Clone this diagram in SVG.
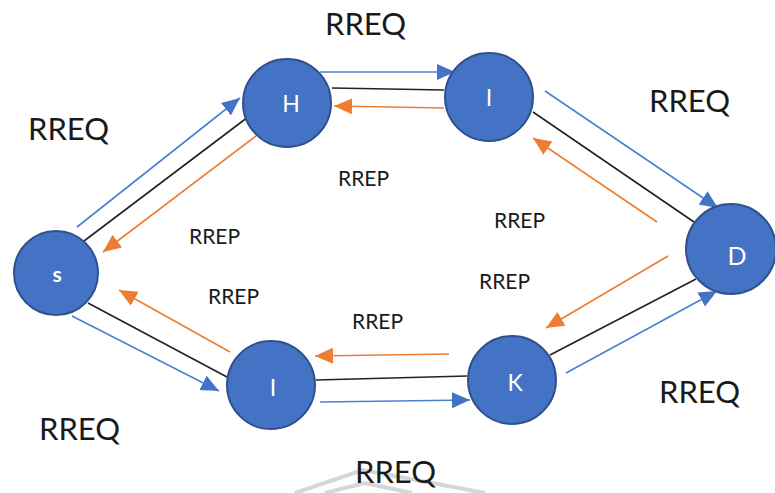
<svg xmlns="http://www.w3.org/2000/svg" width="775" height="493" viewBox="0 0 775 493">
<style>
.node{fill:#4472C4;stroke:#2F528F;stroke-width:2}
.nl{font-family:Lato,"Open Sans",sans-serif;fill:#fff;text-anchor:middle;font-size:23px}
.req{font-family:Lato,"Open Sans",sans-serif;font-size:31px;fill:#1a1a1a}
.rep{font-family:Lato,"Open Sans",sans-serif;font-size:21px;fill:#1a1a1a}
.b{stroke:#4A7FD6;stroke-width:1.6;fill:none}
.k{stroke:#222;stroke-width:1.6;fill:none}
.o{stroke:#ED7D31;stroke-width:1.6;fill:none}
</style>
<defs>
<marker id="ab" markerUnits="userSpaceOnUse" markerWidth="19" markerHeight="17" refX="18" refY="8" orient="auto"><path d="M0,0 L18,8 L0,16 z" fill="#4472C4"/></marker>
<marker id="ao" markerUnits="userSpaceOnUse" markerWidth="19" markerHeight="17" refX="18" refY="8" orient="auto"><path d="M0,0 L18,8 L0,16 z" fill="#ED7D31"/></marker>
</defs>
<rect width="775" height="493" fill="#fff"/>
<g id="watermark" fill="none" stroke="#d6d6d6" stroke-width="4">
<polyline points="295,493 363,470 485,493"/>
<polyline points="325,493 365,483 412,493"/>
</g>
<g id="connectors">
<line class="b" x1="77" y1="227" x2="240" y2="98" marker-end="url(#ab)"/>
<line class="k" x1="84" y1="241" x2="252" y2="114"/>
<line class="o" x1="256" y1="136" x2="103" y2="252" marker-end="url(#ao)"/>
<line class="b" x1="320" y1="72" x2="455" y2="72" marker-end="url(#ab)"/>
<line class="k" x1="332" y1="88" x2="444" y2="90"/>
<line class="o" x1="444" y1="108" x2="334" y2="106" marker-end="url(#ao)"/>
<line class="b" x1="545" y1="91" x2="718" y2="208" marker-end="url(#ab)"/>
<line class="k" x1="533" y1="112" x2="694" y2="222"/>
<line class="o" x1="657" y1="222" x2="533" y2="138" marker-end="url(#ao)"/>
<line class="o" x1="668" y1="256" x2="546" y2="328" marker-end="url(#ao)"/>
<line class="k" x1="696" y1="279" x2="550" y2="355"/>
<line class="b" x1="566" y1="373" x2="717" y2="291" marker-end="url(#ab)"/>
<line class="o" x1="449" y1="354" x2="315" y2="356" marker-end="url(#ao)"/>
<line class="k" x1="316" y1="380" x2="467" y2="376"/>
<line class="b" x1="320" y1="402" x2="470" y2="400" marker-end="url(#ab)"/>
<line class="o" x1="230" y1="352" x2="119" y2="290" marker-end="url(#ao)"/>
<line class="k" x1="88" y1="303" x2="227" y2="377"/>
<line class="b" x1="72" y1="316" x2="219" y2="391" marker-end="url(#ab)"/>
</g>
<g id="node-S"><circle class="node" cx="56" cy="273" r="42"/><text class="nl" x="57" y="282" style="font-size:21px;font-weight:bold">s</text></g>
<g id="node-H"><circle class="node" cx="287" cy="103" r="44"/><text class="nl" x="291" y="112">H</text></g>
<g id="node-I1"><circle class="node" cx="489" cy="97" r="44"/><text class="nl" x="489" y="106">I</text></g>
<g id="node-D"><circle class="node" cx="731" cy="249" r="45"/><text class="nl" x="737" y="265" style="font-size:25px">D</text></g>
<g id="node-I2"><circle class="node" cx="271" cy="385" r="44"/><text class="nl" x="273" y="396">I</text></g>
<g id="node-K"><circle class="node" cx="512" cy="380" r="44"/><text class="nl" x="515" y="391">K</text></g>
<g id="labels">
<text class="req" x="325" y="35">RREQ</text>
<text class="req" x="28" y="140">RREQ</text>
<text class="req" x="649" y="112">RREQ</text>
<text class="req" x="39" y="440">RREQ</text>
<text class="req" x="659" y="403">RREQ</text>
<text class="req" x="355" y="483">RREQ</text>
<text class="rep" x="189" y="244">RREP</text>
<text class="rep" x="338" y="186">RREP</text>
<text class="rep" x="494" y="228">RREP</text>
<text class="rep" x="479" y="289">RREP</text>
<text class="rep" x="208" y="304">RREP</text>
<text class="rep" x="352" y="329">RREP</text>
</g>
</svg>
